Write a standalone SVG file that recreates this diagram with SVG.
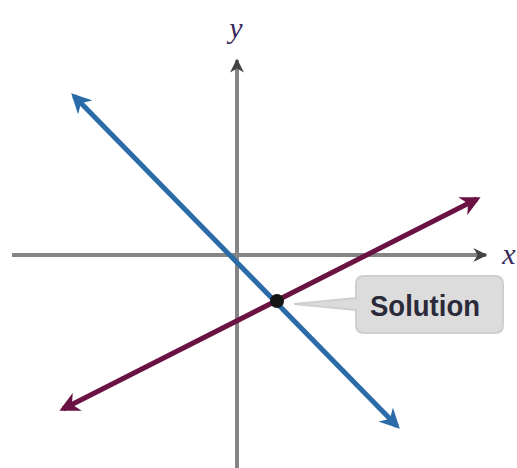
<svg xmlns="http://www.w3.org/2000/svg" width="517" height="468" viewBox="0 0 517 468">
<style>
.axis{stroke:#858585;stroke-width:4;fill:none}
.blue{stroke:#2b6ca8;stroke-width:5;fill:none}
.purple{stroke:#6a1242;stroke-width:5;fill:none}
.lbl{font-family:"Liberation Serif",serif;font-style:italic;font-size:30px;fill:#3a2a5a}
.sol{font-family:"Liberation Sans",sans-serif;font-weight:bold;font-size:29px;fill:#2a2a3a}
</style>
<defs>
<marker id="ah" viewBox="0 0 10 10" refX="8" refY="5" markerWidth="4" markerHeight="4" orient="auto-start-reverse" markerUnits="strokeWidth">
<path d="M0,0 L10,5 L0,10 L3,5 Z" fill="context-stroke"/>
</marker>
<marker id="ax" viewBox="0 0 10 10" refX="9" refY="5" markerWidth="3.5" markerHeight="3.5" orient="auto" markerUnits="strokeWidth">
<path d="M0,0 L10,5 L0,10 L3,5 Z" fill="#444"/>
</marker>
</defs>
<g id="connectors">
<line class="axis" x1="12" y1="255" x2="486" y2="255" marker-end="url(#ax)"/>
<line class="axis" x1="237" y1="468" x2="237" y2="60" marker-end="url(#ax)"/>
<line class="blue" x1="74" y1="96" x2="397" y2="426" marker-start="url(#ah)" marker-end="url(#ah)"/>
<line class="purple" x1="63" y1="409" x2="477" y2="199" marker-start="url(#ah)" marker-end="url(#ah)"/>
</g>
<g id="labels">
<text class="lbl" x="236" y="38" text-anchor="middle">y</text>
<text class="lbl" x="509" y="264" text-anchor="middle">x</text>
</g>
<g id="solution">
<circle cx="277" cy="301" r="7" fill="#151515"/>
<path d="M364,276 H495 Q503,276 503,284 V325 Q503,333 495,333 H364 Q356,333 356,325 V310 L294,304 L356,298 V284 Q356,276 364,276 Z" fill="#dcdcdc" stroke="#cfcfcf" stroke-width="2"/>
<text class="sol" x="425" y="316" text-anchor="middle" textLength="110" lengthAdjust="spacingAndGlyphs">Solution</text>
</g>
</svg>
